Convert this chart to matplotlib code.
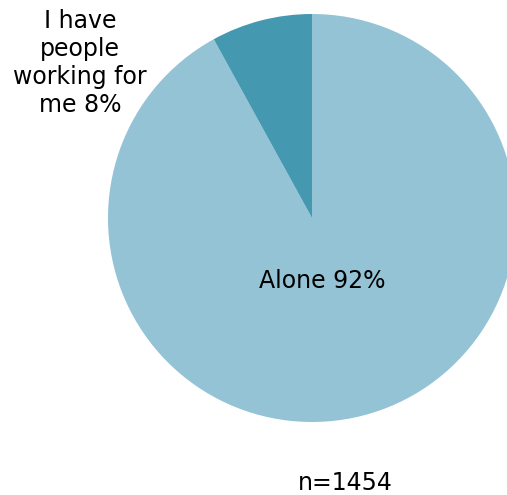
import matplotlib.pyplot as plt

# Data
labels = ['Alone', 'I have\npeople\nworking for\nme']
shares = [92, 8]
colors = ['#93c3d5', '#4499b1']
n_total = 1454

W, H = 507, 495
fig = plt.figure(figsize=(W / 100, H / 100), dpi=100)
ax = fig.add_axes([0, 0, 1, 1])

# pie laid out in pixel units, clipped at the right edge
cx, cy, r = 312, H - 218, 204
ax.pie(shares, colors=colors, startangle=90, counterclock=False,
       center=(cx, cy), radius=r, frame=True,
       wedgeprops=dict(linewidth=0))
ax.set_xlim(0, W)
ax.set_ylim(0, H)
ax.set_aspect('equal')
ax.axis('off')

ax.text(322, H - 281, f'{labels[0]} {shares[0]}%', ha='center', va='center',
        fontsize=17, color='black')
ax.text(80, H - 63, f'{labels[1]} {shares[1]}%', ha='center', va='center',
        fontsize=17, color='black', linespacing=1.2)
ax.text(345, H - 483, f'n={n_total}', ha='center', va='center',
        fontsize=17, color='black')

fig.savefig('out.png', dpi=100)
